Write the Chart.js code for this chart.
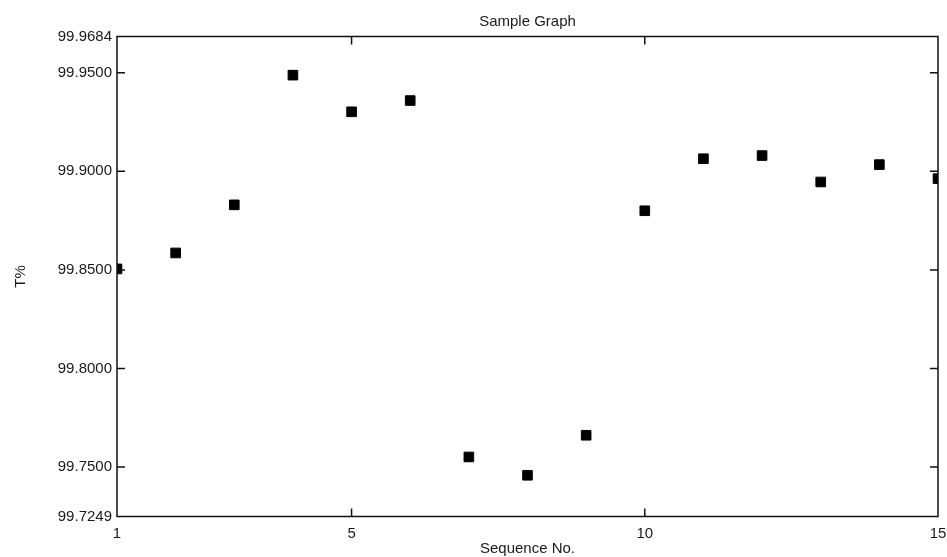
<!DOCTYPE html>
<html>
<head>
<meta charset="utf-8">
<script src="https://cdn.jsdelivr.net/npm/chart.js@4/dist/chart.umd.min.js"></script>
<style>
  html, body { margin: 0; padding: 0; background: #ffffff; }
  canvas { display: block; }
</style>
</head>
<body>
<canvas id="c" width="947" height="557"></canvas>
<script>
const sequenceNo = [1, 2, 3, 4, 5, 6, 7, 8, 9, 10, 11, 12, 13, 14, 15];
const transmittance = [99.8505, 99.8586, 99.8830, 99.9488, 99.9302, 99.9359, 99.7551, 99.7458, 99.7661, 99.8800, 99.9064, 99.9080, 99.8946, 99.9034, 99.8963];
const xTicks = [1, 5, 10, 15];
const yTicks = [99.7249, 99.75, 99.80, 99.85, 99.90, 99.95, 99.9684];
const chartTitle = 'Sample Graph';
const xTitle = 'Sequence No.';
const yTitle = 'T%';

const points = sequenceNo.map((s, i) => ({ x: s, y: transmittance[i] }));
const FONT = 'Liberation Sans, Arial, sans-serif';
const TXT = '#1a1a1a';

const boxPlugin = {
  id: 'boxTicks',
  afterDraw(chart) {
    const { ctx, chartArea: a, scales } = chart;
    ctx.save();
    ctx.strokeStyle = '#111';
    ctx.lineWidth = 1.5;
    ctx.strokeRect(a.left, a.top, a.right - a.left, a.bottom - a.top);
    const len = 8;
    ctx.beginPath();
    yTicks.slice(1, -1).forEach(v => {
      const y = scales.y.getPixelForValue(v);
      ctx.moveTo(a.left, y); ctx.lineTo(a.left + len, y);
      ctx.moveTo(a.right, y); ctx.lineTo(a.right - len, y);
    });
    xTicks.slice(1, -1).forEach(v => {
      const x = scales.x.getPixelForValue(v);
      ctx.moveTo(x, a.top); ctx.lineTo(x, a.top + len);
      ctx.moveTo(x, a.bottom); ctx.lineTo(x, a.bottom - len);
    });
    ctx.stroke();
    ctx.restore();
  }
};

new Chart(document.getElementById('c'), {
  type: 'scatter',
  data: {
    datasets: [{
      data: points,
      xAxisID: 'x',
      yAxisID: 'y',
      pointStyle: 'rect',
      pointRadius: 6.8,
      pointBorderWidth: 1,
      backgroundColor: '#000',
      borderColor: '#000',
      clip: 0
    }]
  },
  options: {
    responsive: false,
    animation: false,
    layout: { padding: { left: 0, right: 9, top: 0, bottom: 0 } },
    plugins: {
      legend: { display: false },
      tooltip: { enabled: false },
      title: { display: false }
    },
    scales: {
      x: {
        type: 'linear',
        position: 'bottom',
        min: 1,
        max: 15,
        afterBuildTicks: s => { s.ticks = xTicks.map(v => ({ value: v })); },
        afterFit: s => { s.height = 40.5; s.paddingRight = 0; s.paddingLeft = 0; },
        grid: { display: false, drawTicks: false },
        border: { display: false },
        ticks: {
          color: TXT,
          font: { family: FONT, size: 15 },
          padding: 8,
          maxRotation: 0,
          callback: v => String(v)
        },
        title: {
          display: true,
          text: xTitle,
          color: TXT,
          font: { family: FONT, size: 15 },
          padding: { top: 0, bottom: -1 }
        }
      },
      xTop: {
        type: 'linear',
        position: 'top',
        min: 1,
        max: 15,
        afterFit: s => { s.height = 36.5; s.paddingRight = 0; s.paddingLeft = 0; },
        grid: { display: false, drawTicks: false },
        border: { display: false },
        ticks: { display: false },
        title: {
          display: true,
          text: chartTitle,
          color: TXT,
          font: { family: FONT, size: 15 },
          padding: { top: 13, bottom: 0 }
        }
      },
      y: {
        type: 'linear',
        min: 99.7249,
        max: 99.9684,
        afterBuildTicks: s => { s.ticks = yTicks.map(v => ({ value: v })); },
        afterFit: s => { s.width = 117; s.paddingTop = 0; s.paddingBottom = 0; },
        grid: { display: false, drawTicks: false },
        border: { display: false },
        ticks: {
          color: TXT,
          font: { family: FONT, size: 15 },
          padding: 5,
          callback: v => Number(v).toFixed(4)
        },
        title: {
          display: true,
          text: yTitle,
          color: TXT,
          font: { family: FONT, size: 15 },
          padding: { top: 12, bottom: 0 }
        }
      }
    }
  },
  plugins: [boxPlugin]
});
</script>
</body>
</html>
